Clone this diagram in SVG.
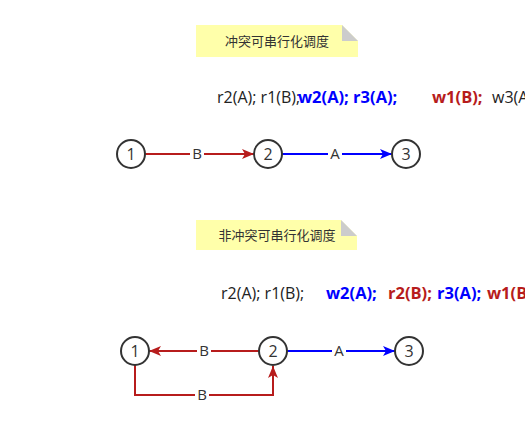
<svg xmlns="http://www.w3.org/2000/svg" width="525" height="421" viewBox="0 0 525 421">
<style>
.note{fill:#ffffaa}
.fold{fill:#cccccc}
.ntxt{font-family:"Noto Sans CJK SC","Noto Sans",sans-serif;font-size:13px;fill:#333333}
.seq{font-family:"Open Sans","Noto Sans",sans-serif;font-size:16px}
.b{font-weight:bold;font-size:16.5px}
.blk{fill:#222222}
.blu{fill:#0000ff}
.red{fill:#b71c1c}
.node circle{fill:#ffffff;stroke:#333333;stroke-width:2}
.node text{font-family:"Open Sans","Noto Sans",sans-serif;font-size:16px;fill:#333333;text-anchor:middle}
.er{stroke:#b71c1c;stroke-width:2;fill:none}
.eb{stroke:#0000ff;stroke-width:2;fill:none}
.lbl{font-family:"Open Sans","Noto Sans",sans-serif;font-size:15px;fill:#333333;text-anchor:middle}
.lbg{fill:#ffffff}
</style>
<defs>
<marker id="ar" viewBox="0 0 12 10" refX="12" refY="5" markerWidth="12" markerHeight="10" markerUnits="userSpaceOnUse" orient="auto">
<path d="M0,0 L12,5 L0,10 L3,5 Z" fill="#b71c1c"/>
</marker>
<marker id="ab" viewBox="0 0 12 10" refX="12" refY="5" markerWidth="12" markerHeight="10" markerUnits="userSpaceOnUse" orient="auto">
<path d="M0,0 L12,5 L0,10 L3,5 Z" fill="#0000ff"/>
</marker>
</defs>
<rect width="525" height="421" fill="#ffffff"/>

<g id="note1">
<path class="note" d="M196,25 H342 L358,41 V57 H196 Z"/>
<path class="fold" d="M342,25 L358,41 H342 Z"/>
<text class="ntxt" x="277" y="46" text-anchor="middle">冲突可串行化调度</text>
</g>
<g id="seq1" class="seq">
<text x="217" y="103" class="blk">r2(A); r1(B);</text>
<text x="298" y="103" class="b blu">w2(A); r3(A);</text>
<text x="432" y="103" class="b red">w1(B);</text>
<text x="492" y="103" class="blk">w3(A);</text>
</g>

<g id="note2">
<path class="note" d="M196,220 H341 L357,236 V250 H196 Z"/>
<path class="fold" d="M341,220 L357,236 H341 Z"/>
<text class="ntxt" x="277" y="240" text-anchor="middle">非冲突可串行化调度</text>
</g>
<g id="seq2" class="seq">
<text x="221" y="299" class="blk">r2(A); r1(B);</text>
<text x="326" y="299" class="b blu">w2(A);</text>
<text x="388" y="299" class="b red">r2(B);</text>
<text x="437" y="299" class="b blu">r3(A);</text>
<text x="487" y="299" class="b red">w1(B);</text>
</g>

<g id="connectors">
<line class="er" x1="145" y1="154" x2="254" y2="154" marker-end="url(#ar)"/>
<rect class="lbg" x="190" y="145" width="14" height="18"/>
<text class="lbl" x="197" y="159">B</text>
<line class="eb" x1="282" y1="154" x2="392" y2="154" marker-end="url(#ab)"/>
<rect class="lbg" x="328" y="145" width="14" height="18"/>
<text class="lbl" x="335" y="159">A</text>

<line class="er" x1="259" y1="351" x2="149" y2="351" marker-end="url(#ar)"/>
<rect class="lbg" x="197" y="342" width="14" height="18"/>
<text class="lbl" x="204" y="356">B</text>
<line class="eb" x1="287" y1="351" x2="395" y2="351" marker-end="url(#ab)"/>
<rect class="lbg" x="332" y="342" width="14" height="18"/>
<text class="lbl" x="339" y="356">A</text>
<path class="er" d="M135,365 V395 H273 V366" marker-end="url(#ar)"/>
<rect class="lbg" x="195" y="386" width="14" height="18"/>
<text class="lbl" x="202" y="400">B</text>
</g>

<g id="n1a" class="node"><circle cx="131" cy="154" r="14"/><text x="131" y="160">1</text></g>
<g id="n2a" class="node"><circle cx="268" cy="154" r="14"/><text x="268" y="160">2</text></g>
<g id="n3a" class="node"><circle cx="406" cy="154" r="14"/><text x="406" y="160">3</text></g>
<g id="n1b" class="node"><circle cx="135" cy="351" r="14"/><text x="135" y="357">1</text></g>
<g id="n2b" class="node"><circle cx="273" cy="351" r="14"/><text x="273" y="357">2</text></g>
<g id="n3b" class="node"><circle cx="409" cy="351" r="14"/><text x="409" y="357">3</text></g>
</svg>
